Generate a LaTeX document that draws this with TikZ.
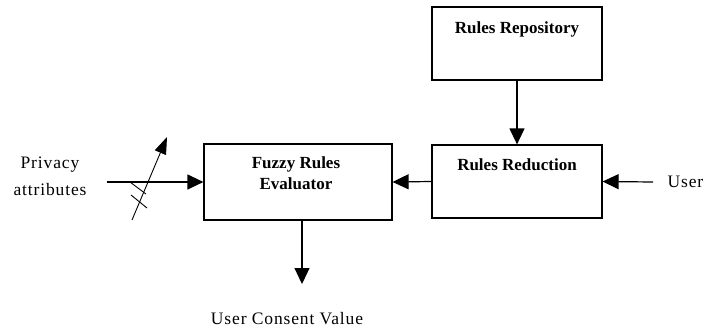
\documentclass[tikz,border=0pt]{standalone}
\usepackage{fontspec}
\setmainfont{Liberation Serif}
\usetikzlibrary{arrows.meta,calc}
\begin{document}
\begin{tikzpicture}[x=1pt,y=-1pt,
  line width=1.2pt,
  blk/.style={draw, rectangle, minimum width=#1, inner sep=0pt},
  hd/.style={font=\fontsize{17}{21}\selectfont\bfseries, align=center, inner sep=0pt},
  txt/.style={font=\fontsize{17.5}{27}\selectfont\addfontfeature{LetterSpace=5}, align=center, inner sep=0pt},
  flow/.style={-{Triangle[length=16pt,width=15pt]}},
  thin/.style={line width=0.9pt}]
\useasboundingbox (0,0) rectangle (708,329);

% blocks
\node[blk=170pt, minimum height=73pt] (repo) at (517,43.5) {};
\node[blk=170pt, minimum height=73pt] (reduc) at (517,181.5) {};
\node[blk=188pt, minimum height=76pt] (fuzzy) at (298,182) {};

% block titles
\node[hd] (repotxt) at (517,29) {Rules Repository};
\node[hd] (reductxt) at (517,165) {Rules Reduction};
\node[hd] (fuzzytxt) at (296,173.5) {Fuzzy Rules\\Evaluator};

% outer labels
\node[txt] (priv) at (50,176) {Privacy\\attributes};
\node[txt, anchor=west] (user) at (667,182) {User};
\node[txt] (consent) at (287,319) {User Consent Value};

% connector end points
\coordinate (privend) at (107,182);
\coordinate (userend) at (653,182);
\coordinate (outend) at (302,284);
\coordinate (diagA) at (132,220);
\coordinate (diagB) at (167,137);
\coordinate (tickA1) at (130,182);
\coordinate (tickA2) at (146,194);
\coordinate (tickB1) at (131,195);
\coordinate (tickB2) at (147,208);

% flows
\draw[flow] (repo.south) -- (reduc.north);
\draw[flow] (reduc.west) -- (fuzzy.east);
\draw[flow] (userend) -- (reduc.east);
\draw[flow] (privend) -- (fuzzy.west);
\draw[flow] (fuzzy.south -| outend) -- (outend);

% adjustable-input mark across the attribute line
\draw[thin, -{Triangle[length=17pt,width=12pt]}] (diagA) -- (diagB);
\draw[thin] (tickA1) -- (tickA2);
\draw[thin] (tickB1) -- (tickB2);
\end{tikzpicture}
\end{document}
